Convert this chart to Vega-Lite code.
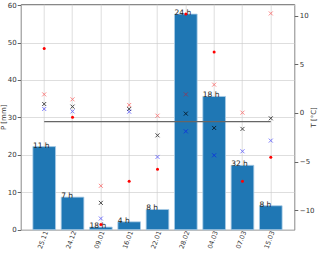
{
  "$schema": "https://vega.github.io/schema/vega-lite/v6.json",
  "width": 273.6,
  "height": 225.7,
  "autosize": {"type": "none"},
  "padding": {"left": 20.7, "top": 4, "right": 25.7, "bottom": 23.3},
  "config": {
    "font": "DejaVu Sans",
    "view": {"stroke": "#888888", "strokeWidth": 1},
    "axis": {
      "labelFontSize": 7,
      "titleFontSize": 7,
      "titleFontWeight": "normal",
      "labelColor": "#333333",
      "titleColor": "#333333",
      "tickColor": "#666666",
      "tickSize": 3.5,
      "domain": false,
      "gridColor": "#c8c8c8",
      "gridOpacity": 0.6,
      "zindex": 1
    }
  },
  "data": {
    "values": [
      {"date": "25.11", "P": 22.2, "hours": "11 h", "dot": 6.63, "xr": 1.91, "xk": 0.92, "xb": 0.41},
      {"date": "24.12", "P": 8.7, "hours": "7 h", "dot": -0.45, "xr": 1.40, "xk": 0.65, "xb": 0.16},
      {"date": "09.01", "P": 0.7, "hours": "18 h", "dot": -11.47, "xr": -7.49, "xk": -9.24, "xb": -10.85},
      {"date": "16.01", "P": 2.1, "hours": "4 h", "dot": -7.02, "xr": 0.82, "xk": 0.41, "xb": 0.13},
      {"date": "22.01", "P": 5.4, "hours": "8 h", "dot": -5.79, "xr": -0.28, "xk": -2.30, "xb": -4.52},
      {"date": "28.02", "P": 57.6, "hours": "24 h", "dot": 10.16, "xr": 1.91, "xk": -0.07, "xb": -1.89},
      {"date": "04.03", "P": 35.6, "hours": "18 h", "dot": 6.26, "xr": 2.91, "xk": -1.54, "xb": -4.35},
      {"date": "07.03", "P": 17.2, "hours": "32 h", "dot": -7.02, "xr": 0.03, "xk": -1.64, "xb": -3.94},
      {"date": "15.03", "P": 6.4, "hours": "8 h", "dot": -4.56, "xr": 10.23, "xk": -0.55, "xb": -2.84}
    ]
  },
  "encoding": {
    "x": {
      "field": "date",
      "type": "nominal",
      "sort": null,
      "scale": {
        "domain": ["25.11", "24.12", "09.01", "16.01", "22.01", "28.02", "04.03", "07.03", "15.03"],
        "paddingInner": 0.2,
        "paddingOuter": 0.43
      },
      "axis": {"title": null, "labelAngle": -70, "labelAlign": "right", "labelBaseline": "middle", "labelPadding": 1, "labelOffset": 2, "labelFontSize": 6.5, "tickSize": 0, "grid": true}
    }
  },
  "layer": [
    {
      "encoding": {
        "y": {
          "field": "P",
          "type": "quantitative",
          "scale": {"domain": [0, 60.3], "nice": false},
          "axis": {"title": "P [mm]", "values": [0, 10, 20, 30, 40, 50, 60], "grid": true, "labelPadding": 1, "titlePadding": 1}
        }
      },
      "layer": [
        {"mark": {"type": "bar", "color": "#1f77b4", "stroke": "#a9cbe6", "strokeWidth": 0.8}},
        {
          "mark": {"type": "text", "align": "left", "baseline": "alphabetic", "fontSize": 7.5, "color": "#222222", "dy": 1},
          "encoding": {
            "x": {"field": "date", "type": "nominal", "sort": null, "bandPosition": 0},
            "text": {"field": "hours"}
          }
        }
      ]
    },
    {
      "layer": [
        {
          "data": {"values": [{"date": "25.11", "end": "15.03", "T": -0.89}]},
          "mark": {"type": "rule", "color": "#666666", "strokeWidth": 1.3},
          "encoding": {
            "x2": {"field": "end"},
            "y": {"field": "T", "type": "quantitative", "scale": {"domain": [-12, 11.2], "nice": false, "zero": false},
              "axis": {"orient": "right", "title": "T [°C]", "titleAngle": -90, "values": [-10, -5, 0, 5, 10], "grid": false, "labelPadding": 1.5, "titlePadding": 2}}
          }
        },
        {
          "mark": {"type": "point", "shape": "M-1,-1L1,1M-1,1L1,-1", "filled": false, "color": "#ff0000", "opacity": 0.45, "strokeWidth": 1, "size": 16},
          "encoding": {
            "y": {"field": "xr", "type": "quantitative", "scale": {"domain": [-12, 11.2], "nice": false, "zero": false},
              "axis": {"orient": "right", "title": "T [°C]", "titleAngle": -90, "values": [-10, -5, 0, 5, 10], "grid": false, "labelPadding": 1.5, "titlePadding": 2}}
          }
        },
        {
          "mark": {"type": "point", "shape": "M-1,-1L1,1M-1,1L1,-1", "filled": false, "color": "#000000", "opacity": 0.7, "strokeWidth": 1, "size": 16},
          "encoding": {
            "y": {"field": "xk", "type": "quantitative", "scale": {"domain": [-12, 11.2], "nice": false, "zero": false},
              "axis": {"orient": "right", "title": "T [°C]", "titleAngle": -90, "values": [-10, -5, 0, 5, 10], "grid": false, "labelPadding": 1.5, "titlePadding": 2}}
          }
        },
        {
          "mark": {"type": "point", "shape": "M-1,-1L1,1M-1,1L1,-1", "filled": false, "color": "#0000ff", "opacity": 0.5, "strokeWidth": 1, "size": 16},
          "encoding": {
            "y": {"field": "xb", "type": "quantitative", "scale": {"domain": [-12, 11.2], "nice": false, "zero": false},
              "axis": {"orient": "right", "title": "T [°C]", "titleAngle": -90, "values": [-10, -5, 0, 5, 10], "grid": false, "labelPadding": 1.5, "titlePadding": 2}}
          }
        },
        {
          "mark": {"type": "point", "shape": "circle", "filled": true, "color": "#ff0000", "opacity": 1, "size": 9},
          "encoding": {
            "y": {"field": "dot", "type": "quantitative", "scale": {"domain": [-12, 11.2], "nice": false, "zero": false},
              "axis": {"orient": "right", "title": "T [°C]", "titleAngle": -90, "values": [-10, -5, 0, 5, 10], "grid": false, "labelPadding": 1.5, "titlePadding": 2}}
          }
        }
      ]
    }
  ],
  "resolve": {"scale": {"y": "independent"}}
}
